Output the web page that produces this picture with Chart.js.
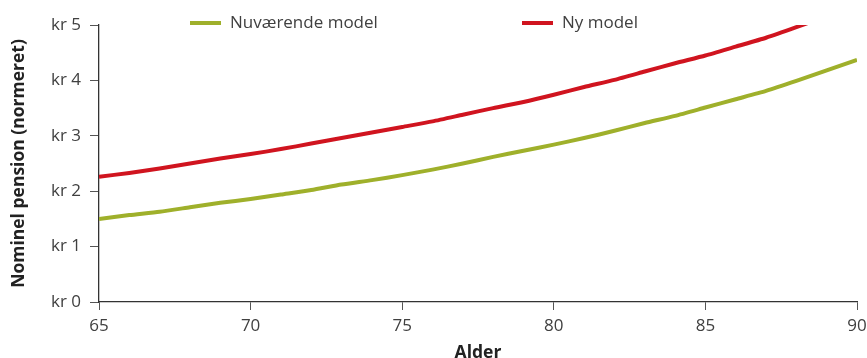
<!DOCTYPE html>
<html lang="da">
<head>
<meta charset="utf-8">
<title>Nominel pension</title>
<script src="https://cdn.jsdelivr.net/npm/chart.js@4/dist/chart.umd.min.js"></script>
<style>
  html, body { margin: 0; padding: 0; background: #fff; }
  #wrap { width: 867px; height: 358px; }
</style>
</head>
<body>
<div id="wrap"><canvas id="c" width="867" height="358"></canvas></div>
<script>
// Alder (år)
const ages = [65, 66, 67, 68, 69, 70, 71, 72, 73, 74, 75, 76, 77, 78, 79, 80, 81, 82, 83, 84, 85, 86, 87, 88, 89, 90];
// Nominel pension, normeret (kr)
const currentModel = [1.50, 1.57, 1.63, 1.71, 1.79, 1.86, 1.94, 2.02, 2.12, 2.20, 2.29, 2.39, 2.50, 2.62, 2.73, 2.84, 2.96, 3.09, 3.23, 3.36, 3.51, 3.66, 3.81, 3.99, 4.18, 4.37];
const newModel     = [2.26, 2.33, 2.41, 2.50, 2.59, 2.67, 2.76, 2.86, 2.96, 3.06, 3.16, 3.26, 3.38, 3.50, 3.61, 3.74, 3.88, 4.01, 4.16, 4.31, 4.45, 4.61, 4.77, 4.96, 5.16, 5.36];
const seriesNames = ['Nuværende model', 'Ny model'];
const xTicks = [65, 70, 75, 80, 85, 90];
const yTicks = [0, 1, 2, 3, 4, 5];

const FONT = "'Open Sans', 'Noto Sans', sans-serif";
const TEXT = '#404040';
const GREEN = '#9fb02b';
const RED = '#d0141f';

const toPoints = (vals) => ages.map((a, i) => ({ x: a, y: vals[i] }));

// Legend drawn inside the top strip of the plot
const topLegend = {
  id: 'topLegend',
  afterDraw(chart) {
    const ctx = chart.ctx;
    const starts = [190, 522];
    ctx.save();
    ctx.font = '17px ' + FONT;
    ctx.textBaseline = 'middle';
    chart.data.datasets.forEach((ds, i) => {
      const x = starts[i], y = 23;
      ctx.strokeStyle = ds.borderColor;
      ctx.lineWidth = 4;
      ctx.beginPath();
      ctx.moveTo(x, y);
      ctx.lineTo(x + 31, y);
      ctx.stroke();
      ctx.fillStyle = TEXT;
      ctx.fillText(ds.label, x + 40, y);
    });
    ctx.restore();
  }
};

new Chart(document.getElementById('c'), {
  type: 'line',
  data: {
    datasets: [
      { label: seriesNames[0], data: toPoints(currentModel), borderColor: GREEN, backgroundColor: GREEN, borderWidth: 4, pointRadius: 0, tension: 0.2 },
      { label: seriesNames[1], data: toPoints(newModel), borderColor: RED, backgroundColor: RED, borderWidth: 4, pointRadius: 0, tension: 0.2 }
    ]
  },
  options: {
    responsive: false,
    animation: false,
    layout: { padding: { top: 25, right: 10, left: 0, bottom: 0 } },
    plugins: { legend: { display: false }, tooltip: { enabled: false } },
    scales: {
      x: {
        type: 'linear',
        min: 65, max: 90,
        afterBuildTicks: (s) => { s.ticks = xTicks.map(v => ({ value: v })); },
        afterFit: (s) => { s.height = 56; s.paddingLeft = 0; s.paddingRight = 0; },
        grid: { drawOnChartArea: false, tickLength: 8, color: '#555' },
        border: { display: true, color: '#333', width: 1.3 },
        ticks: { color: TEXT, font: { family: FONT, size: 17 }, padding: 6, maxRotation: 0 },
        title: { display: true, text: 'Alder', color: '#222', font: { family: FONT, size: 17.5, weight: 'bold' }, padding: { top: 0, bottom: -6 } }
      },
      y: {
        min: 0, max: 5,
        afterBuildTicks: (s) => { s.ticks = yTicks.map(v => ({ value: v })); },
        afterFit: (s) => { s.width = 99; },
        grid: { drawOnChartArea: false, tickLength: 9, color: '#555' },
        border: { display: true, color: '#333', width: 1.3 },
        ticks: { color: TEXT, font: { family: FONT, size: 17 }, padding: 9, callback: (v) => 'kr ' + v },
        title: { display: true, text: 'Nominel pension (normeret)', color: '#222', font: { family: FONT, size: 17.5, weight: 'bold' }, padding: { top: 9, bottom: 0 } }
      }
    }
  },
  plugins: [topLegend]
});
</script>
</body>
</html>
